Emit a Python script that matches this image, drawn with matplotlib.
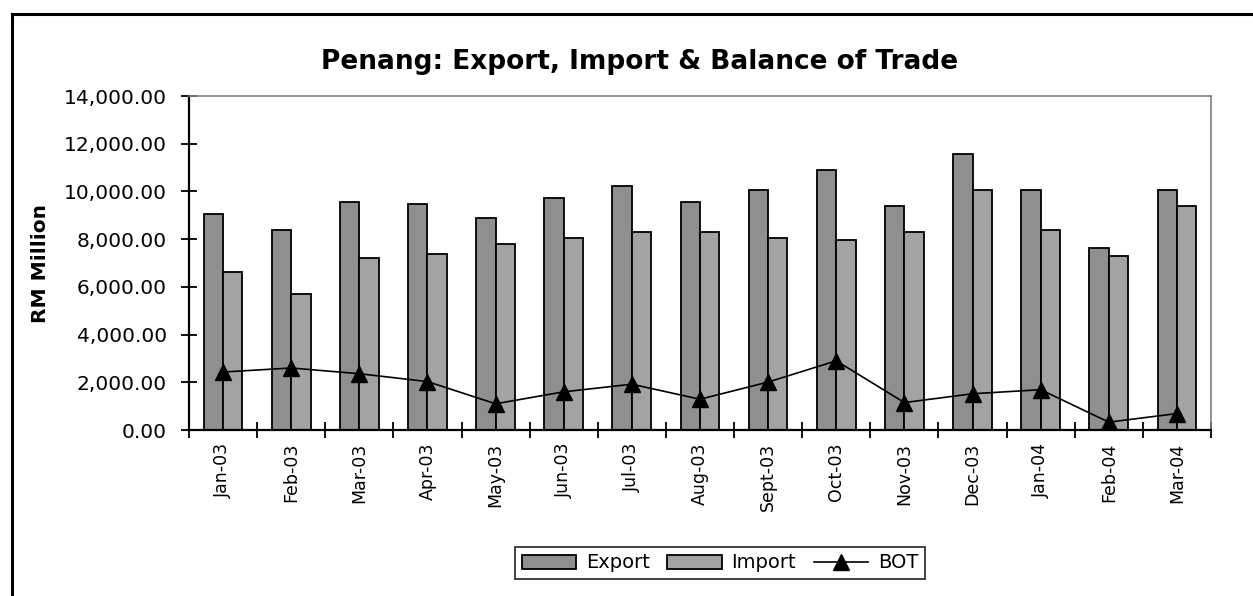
import matplotlib
matplotlib.use("Agg")
import matplotlib.pyplot as plt
import numpy as np
from matplotlib.ticker import FuncFormatter, MultipleLocator
from matplotlib.lines import Line2D

# Données (RM Million)
months = ["Jan-03", "Feb-03", "Mar-03", "Apr-03", "May-03", "Jun-03", "Jul-03", "Aug-03",
          "Sept-03", "Oct-03", "Nov-03", "Dec-03", "Jan-04", "Feb-04", "Mar-04"]
export = [9050, 8380, 9550, 9470, 8880, 9720, 10220, 9550,
          10070, 10890, 9380, 11580, 10070, 7630, 10070]
imports = [6610, 5690, 7200, 7370, 7790, 8040, 8290, 8290,
           8050, 7960, 8290, 10070, 8380, 7300, 9380]
bot = [2430, 2600, 2360, 2030, 1100, 1600, 1920, 1290,
       2010, 2900, 1150, 1520, 1690, 330, 690]

plt.rcParams['font.family'] = ['DejaVu Sans']

fig = plt.figure(figsize=(12.53, 5.96), dpi=100)
ax = fig.add_axes([0.1508, 0.2785, 0.8157, 0.5604])

x = np.arange(len(months))
w = 0.284
b1 = ax.bar(x - w / 2, export, width=w, color="#8f8f8f", edgecolor="black", linewidth=1.3, label="Export")
b2 = ax.bar(x + w / 2, imports, width=w, color="#a3a3a3", edgecolor="black", linewidth=1.3, label="Import")
l1, = ax.plot(x, bot, color="black", linewidth=1.2, marker="^", markersize=11, label="BOT")

ax.set_xlim(-0.5, len(months) - 0.5)
ax.set_ylim(0, 14000)
ax.yaxis.set_major_locator(MultipleLocator(2000))
ax.yaxis.set_major_formatter(FuncFormatter(lambda v, p: f"{v:,.2f}"))
ax.tick_params(axis="y", direction="inout", length=12, width=1.3, labelsize=14.5, pad=10)

# ticks entre les catégories, étiquettes au centre
ax.set_xticks(np.arange(-0.5, len(months), 1.0))
ax.set_xticklabels([])
ax.set_xticks(x, minor=True)
ax.set_xticklabels(months, minor=True, rotation=90, fontsize=12.5)
ax.tick_params(axis="x", which="major", direction="inout", length=12, width=1.3)
ax.tick_params(axis="x", which="minor", length=0, pad=9)

for s in ["left", "bottom"]:
    ax.spines[s].set_linewidth(1.6)
    ax.spines[s].set_color("black")
for s in ["top", "right"]:
    ax.spines[s].set_linewidth(1.2)
    ax.spines[s].set_color("#808080")

ax.set_ylabel("RM Million", fontsize=14.5, fontweight="bold", labelpad=10)
fig.text(640 / 1253, 1 - 62 / 596, "Penang: Export, Import & Balance of Trade", fontsize=19,
         fontweight="bold", ha="center", va="center")

leg = fig.legend([b1, b2, l1], ["Export", "Import", "BOT"], loc="center",
                 bbox_to_anchor=(720 / 1253, 1 - 563 / 596), ncol=3,
                 frameon=True, fancybox=False, edgecolor="black", fontsize=14,
                 handlelength=2.8, handletextpad=0.5, columnspacing=0.9, borderpad=0.35,
                 borderaxespad=0)
leg.get_frame().set_linewidth(1.3)

# cadre extérieur du graphique
fig.add_artist(Line2D([12 / 1253, 1.0], [1 - 14 / 596, 1 - 14 / 596], color="black", linewidth=2.2,
                      transform=fig.transFigure))
fig.add_artist(Line2D([12 / 1253, 12 / 1253], [0.0, 1 - 14 / 596], color="black", linewidth=2.2,
                      transform=fig.transFigure))

fig.savefig("out.png", dpi=100)
